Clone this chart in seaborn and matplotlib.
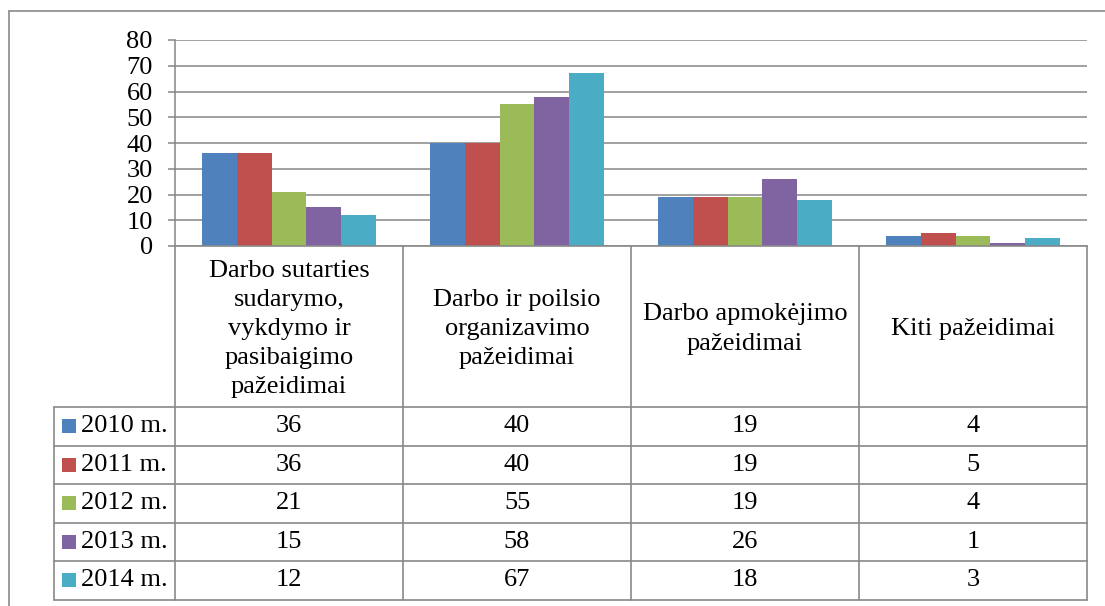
import matplotlib
matplotlib.use("Agg")
import matplotlib.pyplot as plt
import matplotlib.transforms as mtransforms
from matplotlib.lines import Line2D
from matplotlib.patches import Rectangle
import seaborn as sns
import pandas as pd

categories = [
    "Darbo sutarties\nsudarymo,\nvykdymo ir\npasibaigimo\npažeidimai",
    "Darbo ir poilsio\norganizavimo\npažeidimai",
    "Darbo apmokėjimo\npažeidimai",
    "Kiti pažeidimai",
]
years = ["2010 m.", "2011 m.", "2012 m.", "2013 m.", "2014 m."]
v2010 = [36, 40, 19, 4]
v2011 = [36, 40, 19, 5]
v2012 = [21, 55, 19, 4]
v2013 = [15, 58, 26, 1]
v2014 = [12, 67, 18, 3]
colors = ["#4F81BD", "#C0504D", "#9BBB59", "#8064A2", "#4BACC6"]
yticks = [0, 10, 20, 30, 40, 50, 60, 70, 80]

series = [v2010, v2011, v2012, v2013, v2014]
rows = []
for yr, vals in zip(years, series):
    for c, v in zip(categories, vals):
        rows.append({"cat": c, "year": yr, "value": v})
df = pd.DataFrame(rows)

sns.set_theme(style="white")
plt.rcParams["font.family"] = ["Liberation Serif", "DejaVu Serif"]

FS = 19
W, H = 1105, 606
fig = plt.figure(figsize=(W / 100, H / 100), dpi=100)
fx = lambda px: px / W
fy = lambda py: 1 - py / H

ax = fig.add_axes([fx(175), fy(246), fx(1087) - fx(175), fy(40) - fy(246)])
sns.barplot(data=df, x="cat", y="value", hue="year", palette=colors,
            saturation=1, width=0.7675, linewidth=0, ax=ax, legend=False,
            zorder=3)

ax.set_ylim(0, 80)
ax.set_xlim(-0.5, 3.5)
ax.set_yticks(yticks)
ax.set_yticklabels([str(t) for t in yticks], fontsize=FS, color="black")
ax.set_xticks([])
ax.set_xlabel("")
ax.set_ylabel("")
ax.yaxis.grid(True, color="#868686", linewidth=1.1, zorder=0)
ax.set_axisbelow(True)
for s in ["top", "right", "bottom"]:
    ax.spines[s].set_visible(False)
ax.spines["left"].set_color("#868686")
ax.spines["left"].set_linewidth(1.1)
ax.tick_params(axis="y", which="major", left=True, length=5, width=1.1,
               color="#868686", pad=11)

# table below the plot
tr = mtransforms.blended_transform_factory(ax.transData, fig.transFigure)
lc = "#898989"
lw = 1.2
row_lines = [407, 445.5, 484, 522.5, 561, 599.5]
n = len(categories)
fig.add_artist(Line2D([-0.5, n - 0.5], [fy(246), fy(246)], transform=tr,
                      color=lc, lw=lw))
for b in range(n + 1):
    xb = b - 0.5
    fig.add_artist(Line2D([xb, xb], [fy(246), fy(row_lines[-1])], transform=tr,
                          color=lc, lw=lw))
fig.add_artist(Line2D([fx(54), fx(54)], [fy(row_lines[0]), fy(row_lines[-1])],
                      transform=fig.transFigure, color=lc, lw=lw))
for ry in row_lines:
    fig.add_artist(Line2D([fx(54), fx(1087)], [fy(ry), fy(ry)],
                          transform=fig.transFigure, color=lc, lw=lw))

# header texts
for i, c in enumerate(categories):
    fig.text(i, fy(329), c, transform=tr, ha="center", va="center",
             multialignment="center", fontsize=FS, linespacing=1.42,
             color="black")

# data rows
for r, (yr, vals, col) in enumerate(zip(years, series, colors)):
    top, bot = row_lines[r], row_lines[r + 1]
    cy = (top + bot) / 2
    fig.add_artist(Rectangle((fx(62), fy(cy + 7)), fx(14), fy(cy - 7) - fy(cy + 7),
                             transform=fig.transFigure, facecolor=col,
                             edgecolor="none"))
    fig.text(fx(81), fy(cy), yr, ha="left", va="center", fontsize=FS,
             color="black")
    for i, v in enumerate(vals):
        fig.text(i, fy(cy), str(v), transform=tr, ha="center", va="center",
                 fontsize=FS, color="black")

# outer chart frame (extends beyond the visible image)
fig.add_artist(Line2D([fx(8.5), fx(1110)], [fy(10.5), fy(10.5)],
                      transform=fig.transFigure, color="#8a8a8a", lw=1.2))
fig.add_artist(Line2D([fx(8.5), fx(8.5)], [fy(10.5), fy(610)],
                      transform=fig.transFigure, color="#8a8a8a", lw=1.2))

fig.savefig("out.png", dpi=100, facecolor="white")
